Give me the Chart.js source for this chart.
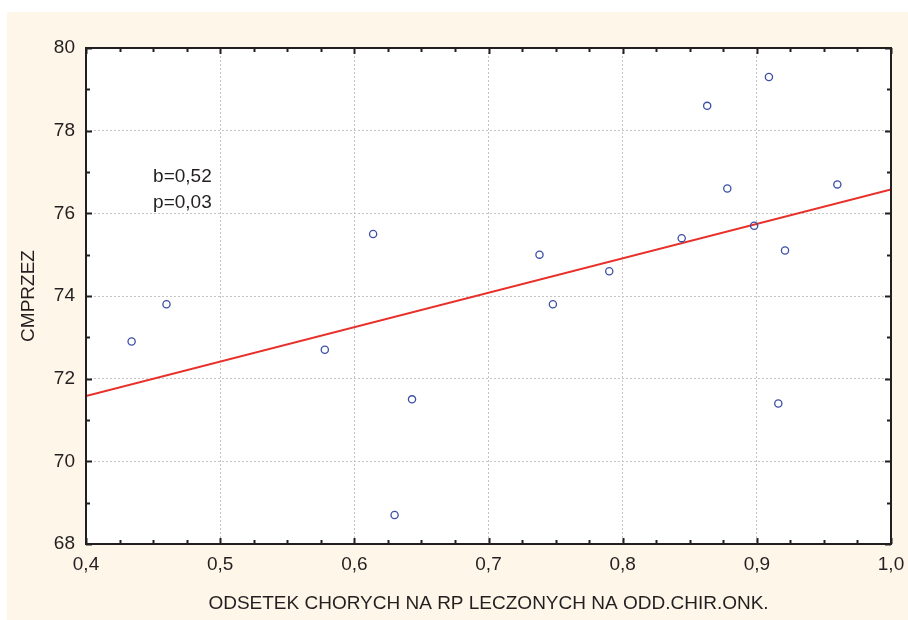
<!DOCTYPE html>
<html>
<head>
<meta charset="utf-8">
<script src="https://cdn.jsdelivr.net/npm/chart.js@4/dist/chart.umd.min.js"></script>
<style>
  html, body { margin: 0; padding: 0; background: #ffffff; }
  #frame { position: absolute; left: 7px; top: 12px; width: 901px; height: 608px; background: #fdf6e9; }
  #c { position: absolute; left: 0; top: 0; }
</style>
</head>
<body>
<div id="frame"></div>
<canvas id="c" width="908" height="620"></canvas>
<script>
// Share of patients with RP treated in oncological surgery wards vs. CMPRZEZ
const shareTreated = [0.434, 0.460, 0.578, 0.614, 0.643, 0.630, 0.738, 0.748, 0.790, 0.844, 0.863, 0.878, 0.898, 0.909, 0.921, 0.916, 0.960];
const cmprzez      = [72.9, 73.8, 72.7, 75.5, 71.5, 68.7, 75.0, 73.8, 74.6, 75.4, 78.6, 76.6, 75.7, 79.3, 75.1, 71.4, 76.7];

// Fitted regression line, evaluated at the axis limits
const fitX = [0.4, 1.0];
const fitY = [71.58, 76.58];

// Statistics printed in the plot
const statLabels = ['b=0,52', 'p=0,03'];

const xTickLabel = v => v.toFixed(1).replace('.', ',');
const FONT = { family: '"Liberation Sans", Arial, sans-serif', size: 19 };
const INK = '#231f20';

const points = shareTreated.map((x, i) => ({ x, y: cmprzez[i] }));
const fitLine = fitX.map((x, i) => ({ x, y: fitY[i] }));

// Frame around the plot area with inward tick marks on all four sides
const framePlugin = {
  id: 'frameTicks',
  afterDatasetsDraw(chart) {
    const { ctx, chartArea: a, scales: { x, y } } = chart;
    ctx.save();
    ctx.strokeStyle = INK;
    ctx.lineWidth = 2;
    // x ticks: every 0.025, major every 0.1
    for (let k = 0; k <= 24; k++) {
      const v = 0.4 + k * 0.025;
      const px = Math.round(x.getPixelForValue(v)) + 0.5;
      const len = (k % 4 === 0) ? 6 : 4;
      ctx.beginPath();
      ctx.moveTo(px, a.bottom); ctx.lineTo(px, a.bottom - len);
      ctx.moveTo(px, a.top); ctx.lineTo(px, a.top + len);
      ctx.stroke();
    }
    // y ticks: every 1, major every 2
    for (let v = 68; v <= 80; v++) {
      const py = Math.round(y.getPixelForValue(v)) + 0.5;
      const len = (v % 2 === 0) ? 6 : 4;
      ctx.beginPath();
      ctx.moveTo(a.left, py); ctx.lineTo(a.left + len, py);
      ctx.moveTo(a.right, py); ctx.lineTo(a.right - len, py);
      ctx.stroke();
    }
    ctx.strokeRect(a.left, a.top, a.right - a.left, a.bottom - a.top);

    // regression statistics
    ctx.fillStyle = INK;
    ctx.font = `${FONT.size}px ${FONT.family}`;
    ctx.textAlign = 'left';
    ctx.textBaseline = 'middle';
    const tx = x.getPixelForValue(0.45);
    ctx.fillText(statLabels[0], tx, y.getPixelForValue(76.88));
    ctx.fillText(statLabels[1], tx, y.getPixelForValue(76.25));
    ctx.restore();
  }
};

const plotBg = {
  id: 'plotBg',
  beforeDraw(chart) {
    const { ctx, chartArea: a } = chart;
    ctx.save();
    ctx.fillStyle = '#ffffff';
    ctx.fillRect(a.left, a.top, a.right - a.left, a.bottom - a.top);
    ctx.restore();
  }
};

new Chart(document.getElementById('c'), {
  type: 'scatter',
  data: {
    datasets: [
      {
        label: 'CMPRZEZ',
        data: points,
        pointStyle: 'circle',
        pointRadius: 3.6,
        pointHoverRadius: 3.6,
        pointBorderWidth: 1.3,
        pointBorderColor: '#3b4fa6',
        pointBackgroundColor: 'rgba(255,255,255,0)',
        showLine: false,
        order: 1
      },
      {
        label: 'fit',
        data: fitLine,
        showLine: true,
        borderColor: '#e8302a',
        borderWidth: 2,
        pointRadius: 0,
        fill: false,
        order: 2
      }
    ]
  },
  options: {
    responsive: false,
    animation: false,
    devicePixelRatio: 1,
    layout: { padding: { left: 0, top: 48, right: 17, bottom: 0 } },
    plugins: { legend: { display: false }, tooltip: { enabled: false } },
    scales: {
      x: {
        type: 'linear',
        min: 0.4, max: 1.0,
        afterFit(s) { s.height = 76; s.paddingLeft = 0; s.paddingRight = 0; },
        grid: { drawTicks: false, color: '#c4c4c4', lineWidth: 1 },
        border: { display: false, dash: [2, 2] },
        ticks: { stepSize: 0.1, padding: 9, color: INK, font: FONT, callback: v => xTickLabel(v) },
        title: { display: true, text: 'ODSETEK CHORYCH NA RP LECZONYCH NA ODD.CHIR.ONK.', color: INK, font: FONT, padding: { top: 0, bottom: 5 } }
      },
      y: {
        type: 'linear',
        min: 68, max: 80,
        afterFit(s) { s.width = 86; s.paddingTop = 0; s.paddingBottom = 0; },
        grid: { drawTicks: false, color: '#c4c4c4', lineWidth: 1 },
        border: { display: false, dash: [2, 2] },
        ticks: { stepSize: 2, padding: 11, color: INK, font: FONT },
        title: { display: true, text: 'CMPRZEZ', color: INK, font: FONT, padding: { top: 17, bottom: 0 } }
      }
    }
  },
  plugins: [plotBg, framePlugin]
});
</script>
</body>
</html>
